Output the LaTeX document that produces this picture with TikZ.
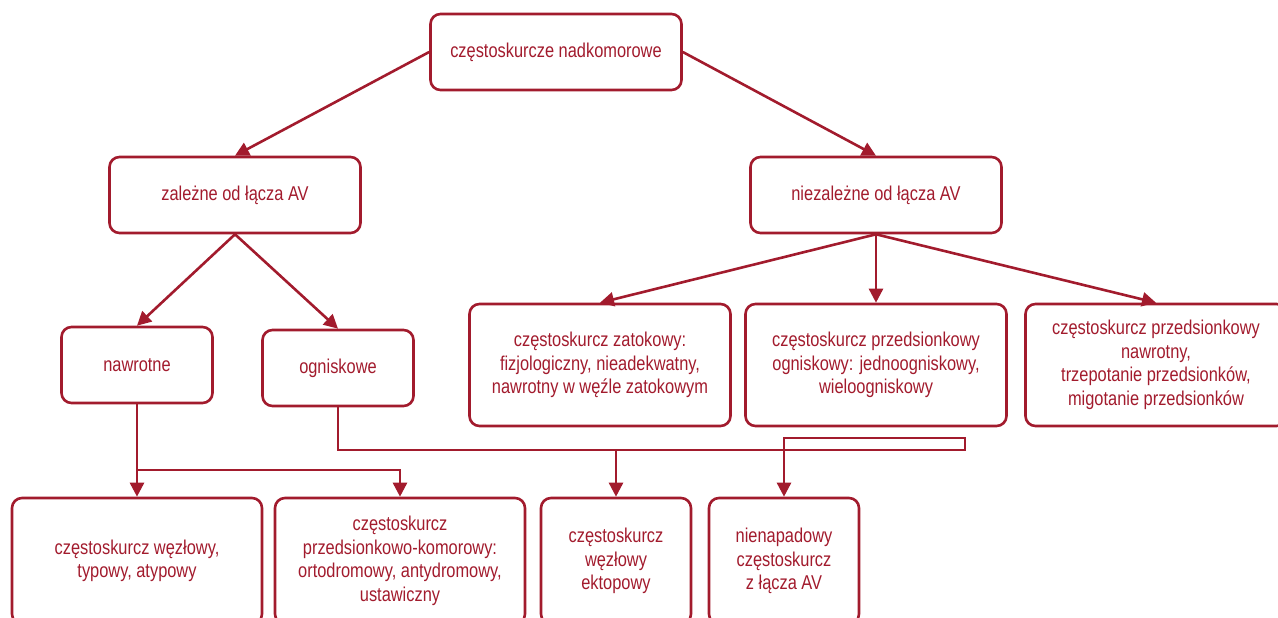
\documentclass[tikz,border=0pt]{standalone}
\usepackage{fontspec}
\setmainfont{Liberation Sans}[FakeStretch=0.82]
\usetikzlibrary{arrows.meta}
\definecolor{kardio}{RGB}{162,27,45}
\tikzset{
  box/.style={draw=kardio, line width=2.6pt, rounded corners=10pt, text=kardio,
    align=center, inner sep=2pt, font=\fontsize{20}{23.5}\selectfont},
  wide/.style={box, minimum width=251pt, minimum height=76pt},
  small/.style={box, minimum width=151pt, minimum height=76pt},
  mid/.style={box, minimum width=261pt, minimum height=122pt},
  low/.style={box, minimum width=250pt, minimum height=126pt},
  lowsmall/.style={box, minimum width=150pt, minimum height=126pt},
  lin/.style={draw=kardio, line width=2.6pt},
  arr/.style={lin, -{Triangle[length=14pt,width=14pt]}}
}
\begin{document}
\begin{tikzpicture}[x=1pt,y=-1pt]
\useasboundingbox (0,0) rectangle (1278,618);
\clip (0,0) rectangle (1278,618);
% levels
\node[wide] (top) at (556,52) {częstoskurcze nadkomorowe};
\node[wide] (zal) at (235,195) {zależne od łącza AV};
\node[wide] (niez) at (876,195) {niezależne od łącza AV};
\node[small] (nawr) at (137,365) {nawrotne};
\node[small] (ogn) at (338,368) {ogniskowe};
\node[mid] (zat) at (600,365) {częstoskurcz zatokowy:\\fizjologiczny, nieadekwatny,\\nawrotny w węźle zatokowym};
\node[mid] (pog) at (876,365) {częstoskurcz przedsionkowy\\ogniskowy: jednoogniskowy,\\wieloogniskowy};
\node[mid] (pnaw) at (1156,365) {częstoskurcz przedsionkowy\\nawrotny,\\trzepotanie przedsionków,\\migotanie przedsionków};
\node[low] (wez) at (137,561) {częstoskurcz węzłowy,\\typowy, atypowy};
\node[low] (pk) at (400,561) {częstoskurcz\\przedsionkowo-komorowy:\\ortodromowy, antydromowy,\\ustawiczny};
\node[lowsmall] (ekt) at (616,561) {częstoskurcz\\węzłowy\\ektopowy};
\node[lowsmall] (nien) at (784,561) {nienapadowy\\częstoskurcz\\z łącza AV};
% joints
\coordinate (j1) at (137,470);
\coordinate (j2) at (965,450);
\coordinate (j3) at (965,438);
% connectors
\draw[arr] (top.west) -- (zal.north);
\draw[arr] (top.east) -- (niez.north);
\draw[arr] (zal.south) -- (nawr.north);
\draw[arr] (zal.south) -- (ogn.north);
\draw[arr] (niez.south) -- (zat.north);
\draw[arr] (niez.south) -- (pog.north);
\draw[arr] (niez.south) -- (pnaw.north);
\draw[arr] (nawr.south) -- (wez.north);
\draw[arr] (j1) -| (pk.north);
\draw[arr] (ogn.south) |- (j2) -- (j3) -| (nien.north);
\draw[arr] (ekt.north |- j2) -- (ekt.north);
\end{tikzpicture}
\end{document}
